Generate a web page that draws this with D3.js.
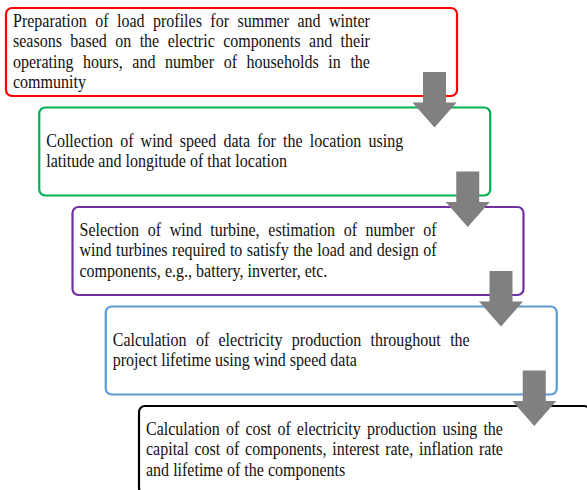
<!DOCTYPE html>
<html>
<head>
<meta charset="utf-8">
<script src="https://cdn.jsdelivr.net/npm/d3@7"></script>
<style>
  html, body { margin: 0; padding: 0; background: #fff; }
  svg { display: block; }
  svg text { font-family: "Liberation Serif", "Times New Roman", Times, "DejaVu Serif", serif; }
</style>
</head>
<body>
<svg id="chart" width="587" height="490"></svg>
<script>
// ---- Data ----
const steps = [0, 1, 2, 3, 4];
const stepLines = [
  ["Preparation of load profiles for summer and winter",
   "seasons based on the electric components and their",
   "operating hours, and number of households in the",
   "community"],
  ["Collection of wind speed data for the location using",
   "latitude and longitude of that location"],
  ["Selection of wind turbine, estimation of number of",
   "wind turbines required to satisfy the load and design of",
   "components, e.g., battery, inverter, etc."],
  ["Calculation of electricity production throughout the",
   "project lifetime using wind speed data"],
  ["Calculation of cost of electricity production using the",
   "capital cost of components, interest rate, inflation rate",
   "and lifetime of the components"]
];
const stepColors = ["#ff0000", "#00b050", "#7030a0", "#5b9bd5", "#000000"];
const arrowSteps = [0, 1, 2, 3];

// ---- Layout ----
const svg = d3.select("#chart");
const boxW = 451, boxH = 88;
const xPos = d3.scaleLinear().domain([0, 4]).range([6, 139]);
const yPos = d3.scaleLinear().domain([0, 4]).range([8, 406]);
const textW = 357, pad = 7, lineH = 20.5, fontSize = 18, sx = 0.89;

const boxes = svg.selectAll("g.box").data(steps).join("g").attr("class", "box");

boxes.append("rect")
  .attr("x", d => xPos(d))
  .attr("y", d => yPos(d))
  .attr("width", boxW)
  .attr("height", boxH)
  .attr("rx", 6)
  .attr("fill", "#fff")
  .attr("stroke", d => stepColors[d])
  .attr("stroke-width", 2.2);

// measuring helper
const meas = svg.append("text").style("font-size", fontSize + "px").attr("x", -1000).attr("y", -1000);
function wlen(s) { meas.text(s); return meas.node().getComputedTextLength(); }
const spaceW = wlen("a b") - wlen("ab");

boxes.each(function(d) {
  const g = d3.select(this);
  const lines = stepLines[d];
  const n = lines.length;
  const cy = yPos(d) + boxH / 2;
  const firstBase = cy - (n - 1) * lineH / 2 + 5.5;
  const tg = g.append("g")
    .attr("transform", `translate(${xPos(d) + pad},0) scale(${sx},1)`);
  lines.forEach((line, li) => {
    const words = line.split(" ");
    const widths = words.map(wlen);
    const sum = d3.sum(widths);
    const last = li === n - 1;
    const gap = last ? spaceW : (textW / sx - sum) / (words.length - 1);
    let x = 0;
    words.forEach((w, wi) => {
      tg.append("text")
        .attr("x", x)
        .attr("y", firstBase + li * lineH)
        .style("font-size", fontSize + "px")
        .attr("fill", "#111")
        .text(w);
      x += widths[wi] + gap;
    });
  });
});
meas.remove();

// arrows
const shaftW = 23, headW = 44;
const arrowPath = d => {
  const cx = xPos(d) + boxW - 22.5;
  const top = yPos(d) + 64, headTop = yPos(d) + 94.5, tip = yPos(d) + 119.5;
  return `M${cx - shaftW/2},${top} L${cx + shaftW/2},${top} L${cx + shaftW/2},${headTop} L${cx + headW/2},${headTop} L${cx},${tip} L${cx - headW/2},${headTop} L${cx - shaftW/2},${headTop} Z`;
};
svg.selectAll("path.arrow").data(arrowSteps).join("path")
  .attr("class", "arrow")
  .attr("d", arrowPath)
  .attr("fill", "#808080");
</script>
</body>
</html>
